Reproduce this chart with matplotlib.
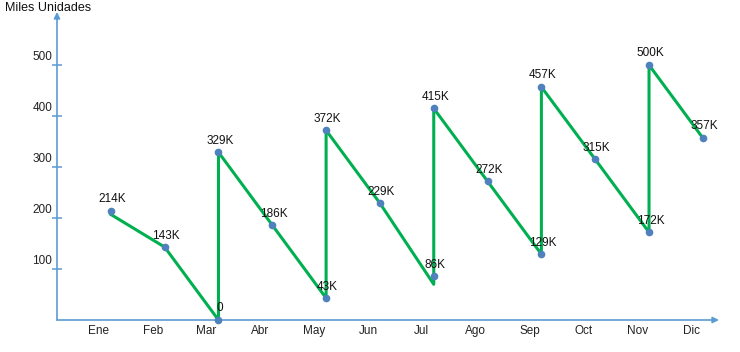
import matplotlib
matplotlib.use("Agg")
import matplotlib.pyplot as plt
from matplotlib.transforms import blended_transform_factory

months = ["Ene", "Feb", "Mar", "Abr", "May", "Jun", "Jul", "Ago", "Sep", "Oct", "Nov", "Dic"]
# point positions (month index, 1-based) and values in thousands
point_month = [1, 2, 3, 3, 4, 5, 5, 6, 7, 7, 8, 9, 9, 10, 11, 11, 12]
point_values = [214, 143, 0, 329, 186, 43, 372, 229, 86, 415, 272, 129, 457, 315, 172, 500, 357]
point_labels = ["214K", "143K", "0", "329K", "186K", "43K", "372K", "229K", "86K", "415K",
                "272K", "129K", "457K", "315K", "172K", "500K", "357K"]
# green overlay line (drawn separately in the original)
line_values = [207, 143, 0, 329, 186, 43, 372, 229, 70, 415, 272, 129, 457, 315, 172, 500, 357]
y_ticks = [100, 200, 300, 400, 500]

W, H = 740, 352
fig = plt.figure(figsize=(W / 100, H / 100), dpi=100)
plt.rcParams['font.family'] = ['Liberation Sans', 'DejaVu Sans']

x0, x1 = 57, 719
yb, yt = 320, 12
ax = fig.add_axes([x0 / W, (H - yb) / H, (x1 - x0) / W, (yb - yt) / H])
ax.set_xlim(0, 12.3)
ax.set_ylim(0, 604)
for s in ["top", "right", "left", "bottom"]:
    ax.spines[s].set_visible(False)

axis_col = "#5B9BD5"
# axes with arrows
ax.annotate("", xy=(1, 0), xytext=(0, 0), xycoords="axes fraction",
            arrowprops=dict(arrowstyle="-|>", color=axis_col, lw=1.2, mutation_scale=9,
                            shrinkA=0, shrinkB=0))
ax.annotate("", xy=(0, 1), xytext=(0, 0), xycoords="axes fraction",
            arrowprops=dict(arrowstyle="-|>", color=axis_col, lw=1.2, mutation_scale=9,
                            shrinkA=0, shrinkB=0))

ax.set_xticks([])
ax.set_yticks(y_ticks)
ax.tick_params(axis="y", direction="inout", length=7, width=1.1, color=axis_col, labelleft=False)

btr = blended_transform_factory(ax.transAxes, ax.transData)
for v in y_ticks:
    ax.text(-0.007, v + 15, str(v), transform=btr, ha="right", va="center", fontsize=8.5,
            color="#222222")

btr_x = blended_transform_factory(ax.transData, ax.transAxes)
for i, m in enumerate(months):
    ax.text(i + 1 - 0.22, -0.035, m, transform=btr_x, ha="center", va="center",
            fontsize=8.5, color="#222222")

ax.plot(point_month, line_values, color="#00B050", lw=2.2, solid_joinstyle="round",
        clip_on=False, zorder=3)
ax.plot(point_month, point_values, linestyle="none", marker="o", markersize=4.5,
        color="#4F81BD", clip_on=False, zorder=4)

for xm, v, lab in zip(point_month, point_values, point_labels):
    ax.annotate(lab, (xm, v), xytext=(1, 4), textcoords="offset points", ha="center",
                va="bottom", fontsize=8.5, color="#111111", zorder=5)

fig.text(5 / W, 1 - 8 / H, "Miles Unidades", ha="left", va="center", fontsize=9,
         color="#111111")

fig.savefig("out.png", dpi=100, facecolor="white")
